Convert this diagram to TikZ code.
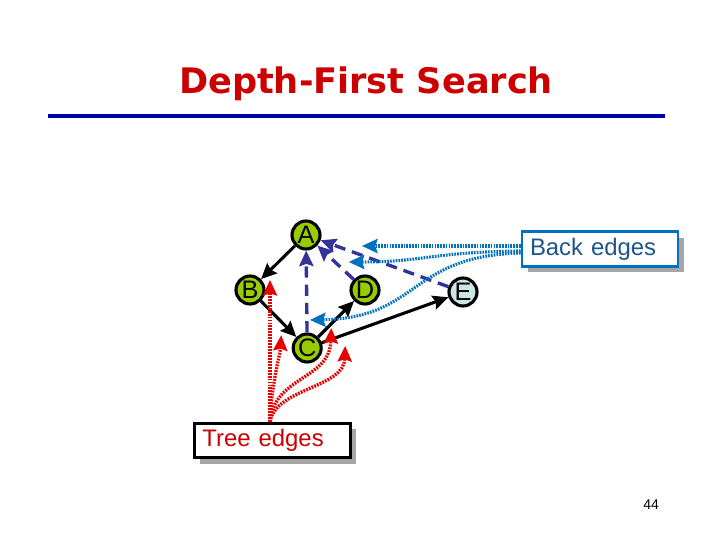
\documentclass[tikz,border=0pt]{standalone}
\usepackage{fontspec}
\usepackage{xcolor}
\setmainfont{Liberation Sans}
\newfontfamily\titlefont{DejaVu Sans}
\usetikzlibrary{shadows,arrows.meta}

\definecolor{titlered}{RGB}{204,0,0}
\definecolor{rulenavy}{RGB}{0,0,170}
\definecolor{vgreen}{RGB}{153,204,0}
\definecolor{vblue}{RGB}{204,230,230}
\definecolor{backnavy}{RGB}{51,51,153}
\definecolor{calloutblue}{RGB}{0,112,192}
\definecolor{backtext}{RGB}{31,84,140}
\definecolor{callred}{RGB}{230,0,0}

\begin{document}
\begin{tikzpicture}[
        >={Stealth[length=11pt,width=10pt,inset=1.5pt]},
        vertex/.style={circle, draw, line width=2.2pt, fill=vgreen, minimum size=0.7cm, inner sep=0pt, font=\fontsize{18}{18}\selectfont},
        treearrow/.style={->, line width=2.2pt},
        backarrow/.style={->, line width=2.4pt, backnavy, dash pattern=on 8pt off 5pt},
        label/.style={rectangle, draw, line width=2pt, fill=white, text width=3.5cm, align=left, inner xsep=0.2cm, minimum height=0.86cm, inner ysep=0pt, font=\fontsize{17}{17}\selectfont, drop shadow={shadow xshift=0.15cm, shadow yshift=-0.15cm, fill=gray!70, opacity=1}},
        bluecall/.style={->, line width=2.2pt, calloutblue, dash pattern=on 1.2pt off 0.8pt},
        redcall/.style={->, line width=2.4pt, callred, dash pattern=on 1.3pt off 0.8pt}
    ]
        \useasboundingbox (0,0) rectangle (18,13.5);

        % Title and rule
        \node[text=titlered, font=\titlefont\bfseries\fontsize{25}{25}\selectfont] (title) at (9.15,11.4) {Depth-First Search};
        \draw[rulenavy, line width=2.2pt] (1.2,10.6) -- (16.625,10.6);

        % Vertices
        \node[vertex] (A) at (7.65,7.625) {A};
        \node[vertex] (B) at (6.25,6.25) {B};
        \node[vertex] (D) at (9.125,6.25) {D};
        \node[vertex, fill=vblue] (E) at (11.575,6.2) {E};
        \node[vertex] (C) at (7.68,4.8) {C};

        % Tree edges
        \draw[treearrow] (A) -- (B);
        \draw[treearrow] (B) -- (C);
        \draw[treearrow] (C) -- (D);
        \draw[treearrow] (C) -- (E);

        % Back edges
        \draw[backarrow] (C) -- (A);
        \draw[backarrow] (D) -- (A);
        \draw[backarrow] (E) -- (A);

        % Labels
        \node[label, draw=calloutblue, text=backtext] (back) at (15.0,7.275) {Back edges};
        \node[label, draw=black, text=titlered] (tree) at (6.81,2.49) {Tree edges};

        % Callout tips
        \coordinate (b1) at (9.05,7.35);
        \coordinate (b2) at (8.72,6.95);
        \coordinate (b3) at (7.75,5.5);
        \coordinate (r1) at (6.75,6.5);
        \coordinate (r2) at (7.03,5.12);
        \coordinate (r3) at (8.28,5.3);
        \coordinate (r4) at (8.63,4.85);

        % Back edge callouts
        \draw[bluecall] (back.west |- b1) -- (b1);
        \draw[bluecall] ([yshift=-0.05cm]back.west) .. controls (10.8,7.2) and (10.6,6.95) .. (b2);
        \draw[bluecall] ([yshift=-0.1cm]back.west) .. controls (10.2,7.1) and (10.5,5.55) .. (b3);

        % Tree edge callouts
        \draw[redcall] ([xshift=-0.06cm]tree.north) -- (r1);
        \draw[redcall] ([xshift=-0.06cm]tree.north) .. controls (6.8,4.0) and (7.0,4.6) .. (r2);
        \draw[redcall] ([xshift=-0.06cm]tree.north) .. controls (6.85,4.1) and (8.25,4.0) .. (r3);
        \draw[redcall] ([xshift=-0.06cm]tree.north) .. controls (6.9,3.8) and (8.6,3.8) .. (r4);

        % Page number
        \node[font=\fontsize{10}{10}\selectfont] (page) at (16.28,0.88) {44};
    \end{tikzpicture}
\end{document}
